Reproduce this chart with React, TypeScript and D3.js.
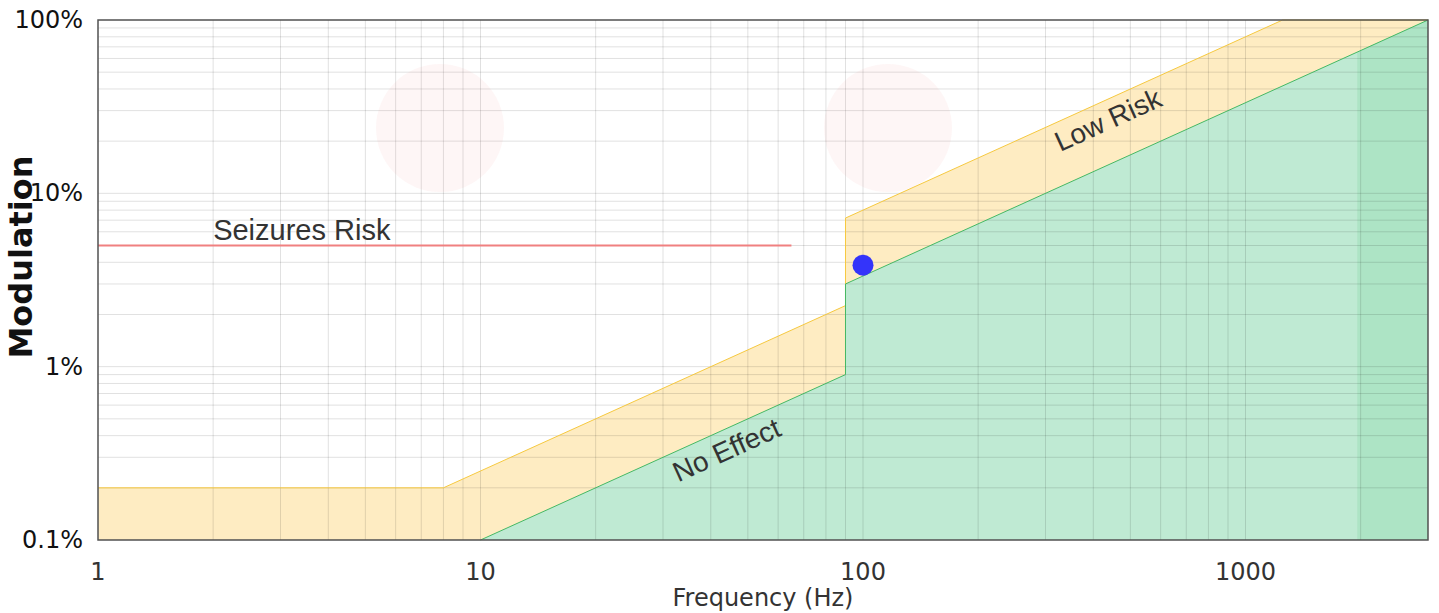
import React from "react";
import * as d3 from "d3";

const lowRiskFreq = [1, 8, 90, 90, 1250, 3000];
const lowRiskMod = [0.2, 0.2, 2.25, 7.2, 100, 100];
const noEffectFreq = [10, 90, 90, 3000];
const noEffectMod = [0.1, 0.9, 3, 100];
const seizureFreq = [1, 65];
const seizureMod = [5, 5];
const pointFreq = [100];
const pointMod = [3.85];
const bandFreq = [1960, 3000];
const xTickValues = [1, 10, 100, 1000];
const xTickLabels = ["1", "10", "100", "1000"];
const yTickValues = [0.1, 1, 10, 100];
const yTickLabels = ["0.1%", "1%", "10%", "100%"];
const labelTexts = ["Low Risk", "No Effect", "Seizures Risk"];
const labelFreq = [437, 44, 2.0];
const labelMod = [26.5, 0.33, 5.4];
const logoPos = [[440, 128], [888, 128]];

const W = 1439;
const H = 613;
const L = 98, R = 1428, T = 20, B = 540;

export default function App() {
  const x = d3.scaleLog().domain([1, 3000]).range([L, R]);
  const y = d3.scaleLog().domain([0.1, 100]).range([B, T]);

  const xGrid: number[] = [];
  for (let e = 0; e <= 3; e++) for (let k = 1; k <= 9; k++) {
    const v = k * Math.pow(10, e);
    if (v <= 3000) xGrid.push(v);
  }
  const yGrid: number[] = [];
  for (let e = -1; e <= 1; e++) for (let k = 1; k <= 9; k++) yGrid.push(k * Math.pow(10, e));
  yGrid.push(100);

  const area = d3.area<[number, number]>()
    .x((d) => x(d[0]))
    .y0(y(0.1))
    .y1((d) => y(d[1]));
  const line = d3.line<[number, number]>().x((d) => x(d[0])).y((d) => y(d[1]));

  const lowPts: [number, number][] = lowRiskFreq.map((f, i) => [f, lowRiskMod[i]]);
  const noPts: [number, number][] = noEffectFreq.map((f, i) => [f, noEffectMod[i]]);
  const seizPts: [number, number][] = seizureFreq.map((f, i) => [f, seizureMod[i]]);

  const angle = -Math.atan((y(1) - y(10)) / (x(10) - x(1))) * 180 / Math.PI;
  const annFont = "Liberation Sans, Arial, sans-serif";
  const tickFont = "DejaVu Sans, Verdana, sans-serif";

  return (
    <svg width={W} height={H} style={{ position: "absolute", left: 0, top: 0, background: "#fff" }}>
      <defs>
        <clipPath id="greenClip">
          <path d={area(noPts) || ""} />
        </clipPath>
        <clipPath id="plotClip">
          <rect x={L} y={T} width={R - L} height={B - T} />
        </clipPath>
      </defs>
      <rect x={0} y={0} width={W} height={H} fill="#fff" />
      <path d={area(lowPts) || ""} fill="#feecc2" />
      <path d={area(noPts) || ""} fill="#bfead3" />
      <rect clipPath="url(#greenClip)" x={x(bandFreq[0])} y={T} width={x(bandFreq[1]) - x(bandFreq[0])} height={B - T} fill="#ade4c5" />
      <g>
        {xGrid.map((v, i) => (
          <line key={"gx" + i} x1={x(v)} x2={x(v)} y1={T} y2={B} stroke="#000" strokeOpacity={0.12} strokeWidth={1} />
        ))}
        {yGrid.map((v, i) => (
          <line key={"gy" + i} x1={L} x2={R} y1={y(v)} y2={y(v)} stroke="#000" strokeOpacity={0.12} strokeWidth={1} />
        ))}
      </g>
      <g clipPath="url(#plotClip)">
        {logoPos.map((p, i) => (
          <circle key={"lg" + i} cx={p[0]} cy={p[1]} r={64} fill="#e86a6a" fillOpacity={0.06} />
        ))}
      </g>
      <path d={line(lowPts) || ""} fill="none" stroke="#f6c940" strokeWidth={1} />
      <path d={line(noPts) || ""} fill="none" stroke="#45b864" strokeWidth={1} />
      <path d={line(seizPts) || ""} fill="none" stroke="#f08080" strokeWidth={1.8} />
      {pointFreq.map((f, i) => (
        <circle key={"p" + i} cx={x(f)} cy={y(pointMod[i])} r={10.5} fill="#3434fa" />
      ))}
      <text
        x={x(labelFreq[0])} y={y(labelMod[0])}
        transform={`rotate(${angle} ${x(labelFreq[0])} ${y(labelMod[0])})`}
        textAnchor="middle" dominantBaseline="central"
        fontFamily={annFont} fontSize={28} fill="#333"
      >{labelTexts[0]}</text>
      <text
        x={x(labelFreq[1])} y={y(labelMod[1])}
        transform={`rotate(${angle} ${x(labelFreq[1])} ${y(labelMod[1])})`}
        textAnchor="middle" dominantBaseline="central"
        fontFamily={annFont} fontSize={28} fill="#333"
      >{labelTexts[1]}</text>
      <text
        x={x(labelFreq[2])} y={y(labelMod[2])}
        fontFamily={annFont} fontSize={29} fill="#333"
      >{labelTexts[2]}</text>
      <rect x={L} y={T} width={R - L} height={B - T} fill="none" stroke="#555" strokeWidth={1.5} />
      {xTickValues.map((v, i) => (
        <text key={"xt" + i} x={x(v)} y={580} textAnchor="middle"
          fontFamily={tickFont} fontSize={24} fill="#333">{xTickLabels[i]}</text>
      ))}
      {yTickValues.map((v, i) => (
        <text key={"yt" + i} x={83} y={y(v)} textAnchor="end" dominantBaseline="central"
          fontFamily={tickFont} fontSize={24} fill="#111">{yTickLabels[i]}</text>
      ))}
      <text x={(L + R) / 2} y={606} textAnchor="middle"
        fontFamily={tickFont} fontSize={24} fill="#333">Frequency (Hz)</text>
      <text transform={`translate(32 257) rotate(-90)`} textAnchor="middle"
        fontFamily={tickFont} fontSize={32} fontWeight="bold" fill="#111">Modulation</text>
    </svg>
  );
}
